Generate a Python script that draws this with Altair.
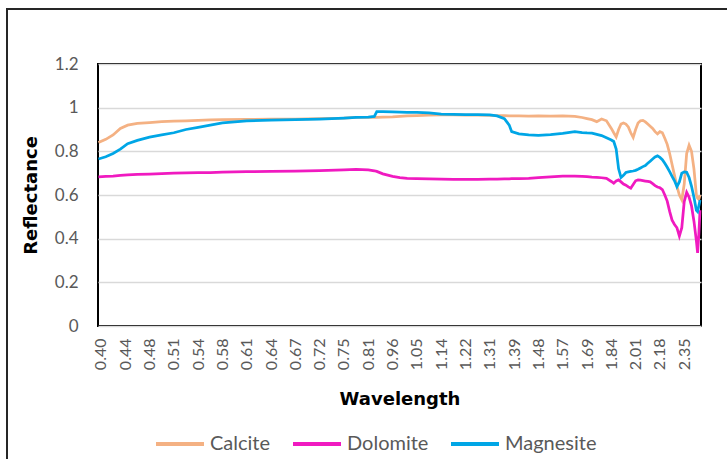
import json
import altair as alt
import pandas as pd

# Category axis: one label every band, data sampled along the band index
wavelength_labels = ["0.40", "0.44", "0.48", "0.51", "0.54", "0.58", "0.61", "0.64",
                     "0.67", "0.72", "0.75", "0.81", "0.96", "1.05", "1.14", "1.22",
                     "1.31", "1.39", "1.48", "1.57", "1.69", "1.84", "2.01", "2.18", "2.35"]

band_index = [-0.1, 0.2, 0.5, 0.8, 1.1, 1.5, 2, 2.5, 3, 3.5, 4, 4.5, 5, 6, 7, 8, 9, 10,
              10.5, 11, 11.25, 11.35, 11.6, 12, 12.3, 12.6, 13, 13.5, 14, 14.5, 15, 15.5,
              16, 16.3, 16.6, 16.8, 16.9, 17.2, 17.6, 18, 18.5, 19, 19.5, 19.8,
              20.0, 20.2, 20.4, 20.6, 20.8,
              21.0, 21.1, 21.2, 21.3, 21.4, 21.5, 21.6, 21.7, 21.8, 21.9,
              22.0, 22.1, 22.2, 22.3, 22.4, 22.5, 22.6, 22.7, 22.8, 22.9,
              23.0, 23.1, 23.2, 23.3, 23.4, 23.5, 23.6, 23.7, 23.8, 23.9,
              24.0, 24.1, 24.2, 24.3, 24.4, 24.5, 24.55, 24.6, 24.65]

calcite = [0.84, 0.855, 0.875, 0.905, 0.92, 0.928, 0.932, 0.936, 0.938, 0.94, 0.942, 0.944,
           0.945, 0.946, 0.947, 0.948, 0.95, 0.952, 0.955, 0.955, 0.956, 0.956, 0.957, 0.958,
           0.96, 0.962, 0.964, 0.966, 0.967, 0.967, 0.966, 0.966, 0.965, 0.964, 0.963, 0.962,
           0.962, 0.962, 0.961, 0.962, 0.961, 0.962, 0.96, 0.955,
           0.95, 0.945, 0.936, 0.948, 0.94,
           0.905, 0.885, 0.866, 0.9, 0.925, 0.93, 0.925, 0.912, 0.885, 0.864,
           0.9, 0.93, 0.94, 0.942, 0.935, 0.925, 0.915, 0.905, 0.89, 0.88,
           0.89, 0.885, 0.86, 0.832, 0.79, 0.74, 0.69, 0.64, 0.6, 0.578,
           0.65, 0.79, 0.828, 0.8, 0.72, 0.6, 0.585, 0.58, 0.6]

dolomite = [0.683, 0.685, 0.687, 0.69, 0.692, 0.694, 0.696, 0.698, 0.7, 0.701, 0.702, 0.703,
            0.705, 0.707, 0.708, 0.709, 0.712, 0.715, 0.717, 0.715, 0.711, 0.708, 0.697, 0.685,
            0.68, 0.676, 0.675, 0.674, 0.673, 0.672, 0.672, 0.672, 0.673, 0.673, 0.674, 0.674,
            0.675, 0.675, 0.676, 0.68, 0.683, 0.686, 0.687, 0.685,
            0.684, 0.682, 0.681, 0.679, 0.676,
            0.662, 0.654, 0.664, 0.669, 0.66, 0.65, 0.645, 0.637, 0.631, 0.648,
            0.665, 0.669, 0.668, 0.666, 0.664, 0.662, 0.66, 0.652, 0.643, 0.637,
            0.633, 0.625, 0.6, 0.572, 0.525, 0.485, 0.465, 0.45, 0.412, 0.45,
            0.57, 0.612, 0.59, 0.55, 0.48, 0.39, 0.335, 0.42, 0.53]

magnesite = [0.765, 0.775, 0.79, 0.81, 0.835, 0.85, 0.865, 0.875, 0.885, 0.9, 0.91, 0.92,
             0.93, 0.94, 0.943, 0.945, 0.948, 0.952, 0.955, 0.957, 0.96, 0.982, 0.982, 0.981,
             0.98, 0.979, 0.978, 0.976, 0.97, 0.969, 0.968, 0.968, 0.967, 0.962, 0.95, 0.92,
             0.89, 0.88, 0.875, 0.873, 0.876, 0.882, 0.89, 0.886,
             0.884, 0.883, 0.878, 0.872, 0.862,
             0.852, 0.845, 0.81, 0.72, 0.68, 0.69, 0.703, 0.706, 0.708, 0.71,
             0.713, 0.718, 0.724, 0.73, 0.735, 0.745, 0.755, 0.765, 0.774, 0.779,
             0.772, 0.762, 0.745, 0.727, 0.707, 0.685, 0.665, 0.638, 0.66, 0.70,
             0.706, 0.704, 0.68, 0.64, 0.59, 0.53, 0.524, 0.55, 0.577]

series_names = ["Calcite", "Dolomite", "Magnesite"]
series_colors = ["#F4B183", "#F01AC0", "#00A6E6"]

wide = pd.DataFrame({"band": band_index, "Calcite": calcite,
                     "Dolomite": dolomite, "Magnesite": magnesite})
long = wide.melt(id_vars="band", var_name="Mineral", value_name="Reflectance")

label_expr = json.dumps(wavelength_labels) + "[round(datum.value)]"

lines = alt.Chart(long).mark_line(strokeWidth=2.75).encode(
    x=alt.X("band:Q",
            scale=alt.Scale(domain=[-0.12, 24.69], nice=False, zero=False),
            axis=alt.Axis(values=list(range(len(wavelength_labels))), labelExpr=label_expr,
                          labelAngle=270, labelAlign="right", labelBaseline="middle",
                          labelPadding=12, labelFont="Lato", labelFontSize=16,
                          labelColor="#595959", labelOverlap=False, labelFlush=False,
                          labelBound=False, ticks=False, domain=False, grid=False,
                          title="Wavelength", titleFont="DejaVu Sans",
                          titleFontWeight="bold", titleFontSize=18, titleColor="#000000",
                          titlePadding=21)),
    y=alt.Y("Reflectance:Q",
            scale=alt.Scale(domain=[0, 1.2], nice=False),
            axis=alt.Axis(values=[0, 0.2, 0.4, 0.6, 0.8, 1.0, 1.2], format="~g",
                          ticks=False, domain=False, gridColor="#d9d9d9", gridWidth=1.5,
                          labelFont="Lato", labelFontSize=17, labelColor="#595959",
                          labelPadding=20, title="Reflectance", titleFont="DejaVu Sans",
                          titleFontWeight="bold", titleFontSize=18, titleColor="#000000",
                          titlePadding=14)),
    color=alt.Color("Mineral:N",
                    scale=alt.Scale(domain=series_names, range=series_colors),
                    legend=alt.Legend(title=None, orient="none", direction="horizontal",
                                      legendX=56, legendY=354, symbolType="stroke",
                                      symbolSize=2304, symbolStrokeWidth=4,
                                      labelFont="Lato", labelFontSize=20,
                                      labelColor="#595959", labelOffset=4,
                                      columnPadding=14, padding=0)),
)

# Chart-area border (left and top edges)
edge = pd.DataFrame({"k": [0]})
border_left = alt.Chart(edge).mark_rule(color="#262626", strokeWidth=2).encode(
    x=alt.value(-91), y=alt.value(-55), y2=alt.value(400))
border_top = alt.Chart(edge).mark_rule(color="#262626", strokeWidth=2).encode(
    x=alt.value(-92), x2=alt.value(640), y=alt.value(-55))

chart = alt.layer(lines, border_left, border_top).properties(
    width=603, height=262,
    autosize=alt.AutoSizeParams(type="none"),
    padding={"left": 98, "top": 64, "right": 26, "bottom": 133},
    background="white",
).configure_view(stroke="#000000", strokeWidth=2)

chart.save("out.html", embed_options={"renderer": "svg", "actions": False})
